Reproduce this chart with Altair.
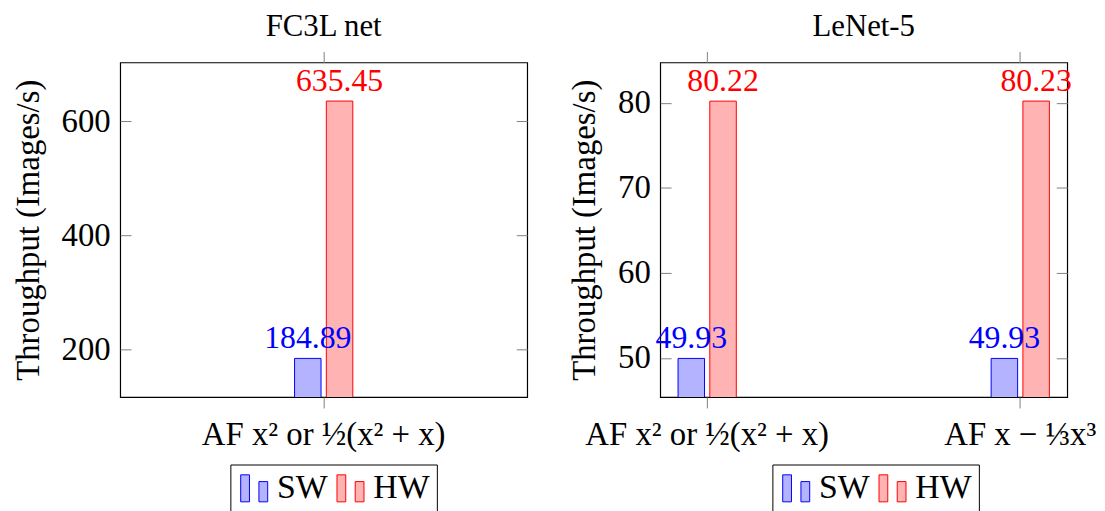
import altair as alt
import pandas as pd

# ---------------- data ----------------
series = ["SW", "HW"]

fc3l_title = "FC3L net"
fc3l_categories = ["AF x² or ½(x² + x)"]
fc3l_sw = [184.89]
fc3l_hw = [635.45]
fc3l_ticks = [200, 400, 600]
fc3l_domain = [117.3, 703.0]

lenet_title = "LeNet-5"
lenet_categories = ["AF x² or ½(x² + x)", "AF x − ⅓x³"]
lenet_sw = [49.93, 49.93]
lenet_hw = [80.22, 80.23]
lenet_ticks = [50, 60, 70, 80]
lenet_domain = [45.385, 84.775]

y_title = "Throughput (Images/s)"

fill_colors = ["#b3b3ff", "#ffb3b3"]
stroke_colors = ["#0000ff", "#ff0000"]

FONT = "Liberation Serif"
TICK_COLOR = "#808080"

# two-bar legend glyph (pgfplots ybar legend image)
BAR_GLYPH = "M-1,-1H-0.35V1H-1Z M0.35,-0.5H1V1H0.35Z"


def make_df(cats, sw, hw):
    rows = []
    for c, a, b in zip(cats, sw, hw):
        rows.append({"category": c, "series": "SW", "value": a})
        rows.append({"category": c, "series": "HW", "value": b})
    return pd.DataFrame(rows)


def panel(df, cats, title, domain, ticks, pad_inner, pad_outer, legend_x):
    xscale = alt.Scale(domain=cats, paddingInner=pad_inner, paddingOuter=pad_outer)
    yscale = alt.Scale(domain=domain, nice=False, zero=False)
    offscale = alt.Scale(domain=series, paddingInner=0.166, paddingOuter=0)

    legend = alt.Legend(
        title=None,
        orient="none",
        legendX=legend_x,
        legendY=405,
        direction="horizontal",
        symbolType=BAR_GLYPH,
        symbolSize=740,
        symbolStrokeWidth=1,
        symbolOpacity=1,
        labelFont=FONT,
        labelFontSize=34,
        labelColor="black",
        labelOffset=6,
        columnPadding=6,
        strokeColor="black",
        fillColor="white",
        padding=7,
        cornerRadius=0,
        labelLimit=200,
    )

    base = alt.Chart(df)

    bars = base.mark_bar(clip=True, strokeWidth=1, opacity=1).encode(
        x=alt.X(
            "category:N",
            sort=cats,
            scale=xscale,
            axis=alt.Axis(
                title=None,
                orient="bottom",
                labelAngle=0,
                labelFont=FONT,
                labelFontSize=33,
                labelColor="black",
                labelPadding=11,
                tickSize=11,
                tickColor=TICK_COLOR,
                domain=False,
                labelLimit=400,
                labelOverlap=False,
            ),
        ),
        xOffset=alt.XOffset("series:N", sort=series, scale=offscale),
        y=alt.Y(
            "value:Q",
            scale=yscale,
            axis=alt.Axis(
                title=y_title,
                orient="left",
                values=ticks,
                grid=False,
                domain=False,
                offset=-11,
                tickSize=11,
                tickColor=TICK_COLOR,
                labelFont=FONT,
                labelFontSize=33,
                labelColor="black",
                labelPadding=10,
                titleFont=FONT,
                titleFontSize=33,
                titleFontWeight="normal",
                titleColor="black",
                titlePadding=16,
            ),
        ),
        fill=alt.Fill("series:N", sort=series,
                      scale=alt.Scale(domain=series, range=fill_colors), legend=legend),
        stroke=alt.Stroke("series:N", sort=series,
                          scale=alt.Scale(domain=series, range=stroke_colors), legend=legend),
    )

    labels = base.mark_text(
        baseline="alphabetic", dy=-10, font=FONT, fontSize=32
    ).encode(
        x=alt.X(
            "category:N",
            sort=cats,
            scale=xscale,
            axis=alt.Axis(
                title=None, orient="top", labels=False, tickSize=11,
                tickColor=TICK_COLOR, domain=False,
            ),
        ),
        xOffset=alt.XOffset("series:N", sort=series, scale=offscale),
        y=alt.Y(
            "value:Q",
            scale=yscale,
            axis=alt.Axis(
                title=None, orient="right", labels=False, values=ticks, grid=False,
                domain=False, offset=-11, tickSize=11, tickColor=TICK_COLOR,
            ),
        ),
        text=alt.Text("value:Q", format=".2f"),
        color=alt.Color("series:N", sort=series,
                        scale=alt.Scale(domain=series, range=stroke_colors), legend=None),
    )

    return (
        alt.layer(bars, labels)
        .resolve_axis(x="independent", y="independent")
        .properties(
            width=410,
            height=337,
            title=alt.TitleParams(
                title, font=FONT, fontSize=31, fontWeight="normal", color="black",
                anchor="middle", offset=8,
            ),
        )
    )


left = panel(make_df(fc3l_categories, fc3l_sw, fc3l_hw), fc3l_categories,
             fc3l_title, fc3l_domain, fc3l_ticks, 0.666, 1.0, 111)
right = panel(make_df(lenet_categories, lenet_sw, lenet_hw), lenet_categories,
              lenet_title, lenet_domain, lenet_ticks, 0.814, 0.057, 113)

chart = (
    alt.hconcat(left, right, spacing=39)
    .resolve_scale(fill="independent", stroke="independent", color="independent")
    .resolve_legend(fill="independent", stroke="independent")
    .properties(padding={"left": 3, "top": 0, "right": 0, "bottom": 0})
    .configure(background="white")
    .configure_view(stroke="black", strokeWidth=1.2)
)

chart.save("out.html", embed_options={"renderer": "svg", "actions": False})
